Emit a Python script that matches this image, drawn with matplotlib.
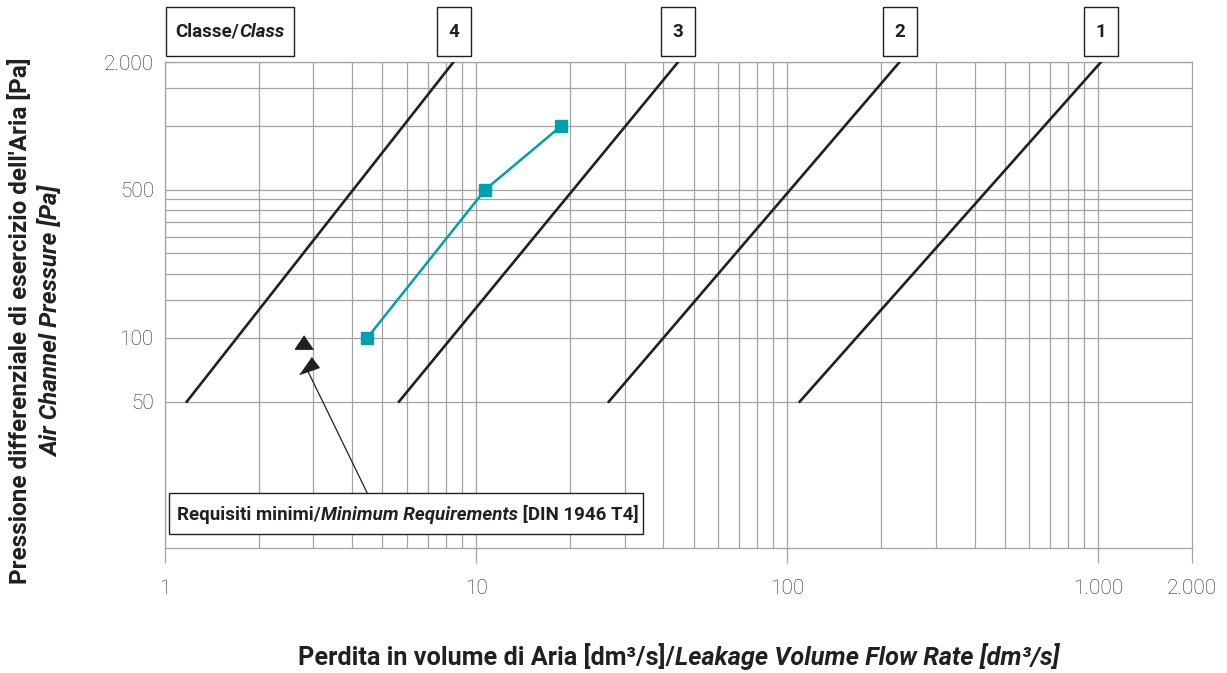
import numpy as np
import matplotlib.pyplot as plt
from matplotlib.patches import Rectangle
from matplotlib.markers import MarkerStyle
from matplotlib.transforms import Affine2D
from matplotlib.ticker import NullLocator

plt.rcParams['font.family'] = ['Roboto', 'DejaVu Sans']

# class limit lines: leakage read at 50 Pa and at 2000 Pa
classes = ["4", "3", "2", "1"]
class_p = [50, 2000]
class_leak_50 = [1.175, 5.65, 26.7, 109.7]
class_leak_2000 = [8.46, 44.6, 229.7, 1020]

# measured duct
meas_leak = [4.47, 10.7, 18.8]
meas_p = [100, 500, 1000]

# minimum requirement [DIN 1946 T4]
req_leak = [2.79]
req_p = [96]

x_ticks = [1, 10, 100, 1000, 2000]
x_labels = ["1", "10", "100", "1.000", "2.000"]
y_ticks = [50, 100, 500, 2000]
y_labels = ["50", "100", "500", "2.000"]
x_grid = [k * 10 ** e for e in range(3) for k in range(1, 10)] + [1000]
y_grid = [50, 100, 150, 200, 250, 300, 350, 400, 450, 500, 1000, 1500, 2000]

W, H = 1227, 673
DARK = "#231f20"
GRID = "#a3a3a3"
TEAL = "#00a0ad"

fig = plt.figure(figsize=(W / 100, H / 100), dpi=100)
ax = fig.add_axes([165 / W, 125 / H, 1027 / W, 486 / H])
ax.set_xscale("log")
ax.set_yscale("log")
ax.set_xlim(1, 2000)
ax.set_ylim(10.2, 2000)

for v in x_grid:
    ax.axvline(v, color=GRID, lw=0.9, zorder=0)
for v in y_grid:
    ax.axhline(v, color=GRID, lw=0.9, zorder=0)
for s in ax.spines.values():
    s.set_color(GRID)
    s.set_linewidth(0.9)

ax.set_xticks(x_ticks, x_labels)
ax.set_yticks(y_ticks, y_labels)
ax.xaxis.set_minor_locator(NullLocator())
ax.yaxis.set_minor_locator(NullLocator())
ax.tick_params(axis="x", length=11, width=0.9, color=GRID, pad=11,
               labelsize=15, labelcolor="#2a2a2a")
ax.tick_params(axis="y", length=0, pad=8, labelsize=15, labelcolor="#2a2a2a")
for lab in ax.get_xticklabels() + ax.get_yticklabels():
    lab.set_fontweight("light")

# class lines
for lo, hi in zip(class_leak_50, class_leak_2000):
    ax.plot([lo, hi], class_p, color=DARK, lw=1.9, zorder=3)

# measured series
ax.plot(meas_leak, meas_p, color=TEAL, lw=1.8, marker="s", ms=8, zorder=4)

# minimum requirement marker
tri = MarkerStyle([(0, 0.74), (-1, -0.74), (1, -0.74)])
ax.plot(req_leak, req_p, ls="none", marker=tri, ms=13, color=DARK, zorder=4)

# arrow from the note box
head_at = (2.85, 71.8)
ax.annotate("", xy=head_at, xytext=(4.47, 18.5),
            arrowprops=dict(arrowstyle="-", color=DARK, lw=0.9,
                            shrinkA=0, shrinkB=0), zorder=5)
head = MarkerStyle([(0, 1), (-0.65, -1), (0.65, -1)],
                   transform=Affine2D().rotate_deg(127))
ax.plot([head_at[0]], [head_at[1]], ls="none", marker=head, ms=14,
        color=DARK, zorder=5)

renderer = fig.canvas.get_renderer()


def pieces(parts, x_px, y_px, size, align="center"):
    texts = []
    for s, style in parts:
        t = fig.text(0, 1 - y_px / H, s, fontsize=size, fontweight="bold",
                     fontstyle=style, color=DARK, va="center", ha="left",
                     zorder=10)
        texts.append(t)
    widths = [t.get_window_extent(renderer).width for t in texts]
    x = x_px - sum(widths) / 2 if align == "center" else x_px
    for t, w in zip(texts, widths):
        t.set_position((x / W, 1 - y_px / H))
        x += w


def box(x0, y0, x1, y1):
    fig.add_artist(Rectangle((x0 / W, 1 - y1 / H), (x1 - x0) / W, (y1 - y0) / H,
                             transform=fig.transFigure, facecolor="white",
                             edgecolor=DARK, lw=1.0, zorder=9))


# note box
box(169, 493, 643, 534)
pieces([("Requisiti minimi/", "normal"), ("Minimum Requirements", "italic"),
        (" [DIN 1946 T4]", "normal")], 177, 515, 13.5, align="left")

# class header boxes
box(166, 7, 294, 56)
pieces([("Classe/", "normal"), ("Class", "italic")], 230, 32, 13.5)
for lab, hi in zip(classes, class_leak_2000):
    xc = ax.transData.transform((hi, 2000))[0]
    box(xc - 17, 7, xc + 17, 56)
    pieces([(lab, "normal")], xc, 32, 13.5)

# axis labels
fig.text(20 / W, 1 - 321 / H, "Pressione differenziale di esercizio dell'Aria [Pa]",
         rotation=90, ha="center", va="center", fontsize=17.5, fontweight="bold",
         color=DARK)
fig.text(51 / W, 1 - 321 / H, "Air Channel Pressure [Pa]", rotation=90,
         ha="center", va="center", fontsize=17.5, fontweight="bold",
         fontstyle="italic", color=DARK)
pieces([("Perdita in volume di Aria [dm³/s]/", "normal"),
        ("Leakage Volume Flow Rate [dm³/s]", "italic")], 679, 657, 18.2)

fig.savefig("out.png", dpi=100)
